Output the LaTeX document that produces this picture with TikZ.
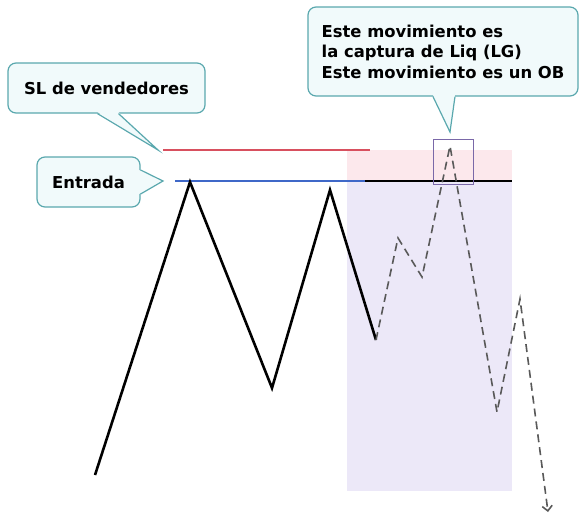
\documentclass[tikz,border=0pt]{standalone}
\usepackage{fontspec}
\setmainfont{DejaVu Sans}
\usetikzlibrary{arrows.meta}
\definecolor{callline}{HTML}{5AA8AE}
\definecolor{callfill}{HTML}{F1FAFB}
\definecolor{slred}{HTML}{D8505F}
\definecolor{entblue}{HTML}{3F68C8}
\definecolor{zonepink}{HTML}{FCE8EC}
\definecolor{zonelav}{HTML}{ECE8F8}
\definecolor{obbox}{HTML}{7A68A8}
\begin{document}
\begin{tikzpicture}[x=1pt, y=-1pt,
    callout/.style={rectangle, draw=callline, fill=callfill, line width=1.2pt, rounded corners=8pt, font=\fontsize{16.4}{20.5}\selectfont\bfseries, inner sep=0pt},
    pointer/.style={draw=callline, line width=1.2pt, line join=miter},
    price/.style={line width=2.6pt, black, line join=miter},
    path/.style={dashed, dash pattern=on 8pt off 5pt, line width=1.6pt, gray!70!black}
]
\useasboundingbox (0,0) rectangle (579,520);

% Zones
\fill[zonepink] (347,150) rectangle (512,181);
\fill[zonelav] (347,181) rectangle (512,491);

% Levels
\draw[slred, line width=1.2pt] (163,150) -- (370,150);
\draw[entblue, line width=1.4pt] (175,181) -- (365,181);
\draw[black, line width=1.4pt] (365,181) -- (512,181);

% Price points
\coordinate (p0) at (95,475);
\coordinate (p1) at (190,182);
\coordinate (p2) at (272,388);
\coordinate (p3) at (330,190);
\coordinate (p4) at (376,340);
\coordinate (q1) at (398,238);
\coordinate (q2) at (422,277);
\coordinate (q3) at (450,146);
\coordinate (q4) at (497,412);
\coordinate (q5) at (520,299);
\coordinate (q6) at (548,512);

% Price moves
\draw[price] (p0) -- (p1) -- (p2) -- (p3) -- (p4);
\draw[path, -{Straight Barb[length=5pt, width=10pt]}] (p4) -- (q1) -- (q2) -- (q3) -- (q4) -- (q5) -- (q6);

% OB box
\node[draw=obbox, line width=0.8pt, minimum width=40pt, minimum height=45pt, inner sep=0pt] (ob) at (453,161.5) {};

% Callouts
\node[callout, minimum width=197pt, minimum height=50pt] (sl) at (106.5,88) {SL de vendedores};
\node[callout, minimum width=103pt, minimum height=50pt] (ent) at (88.5,182) {Entrada};
\node[callout, minimum width=270pt, minimum height=89pt, align=left] (mov) at (443,51.5) {Este movimiento es\\la captura de Liq (LG)\\Este movimiento es un OB};

\coordinate (sltip) at (158,150);
\coordinate (enttip) at (163,181);
\coordinate (movtip) at (450,132);

\fill[callfill] ([xshift=-9pt, yshift=1.5pt]sl.south) -- (sltip) -- ([xshift=12pt, yshift=1.5pt]sl.south) -- cycle;
\draw[pointer] ([xshift=-9pt]sl.south) -- (sltip) -- ([xshift=12pt]sl.south);
\fill[callfill] ([xshift=-1.5pt, yshift=12pt]ent.east) -- (enttip) -- ([xshift=-1.5pt, yshift=-12pt]ent.east) -- cycle;
\draw[pointer] ([yshift=12pt]ent.east) -- (enttip) -- ([yshift=-12pt]ent.east);
\fill[callfill] ([xshift=-10pt, yshift=1.5pt]mov.south) -- (movtip) -- ([xshift=12pt, yshift=1.5pt]mov.south) -- cycle;
\draw[pointer] ([xshift=-10pt]mov.south) -- (movtip) -- ([xshift=12pt]mov.south);

\end{tikzpicture}
\end{document}
